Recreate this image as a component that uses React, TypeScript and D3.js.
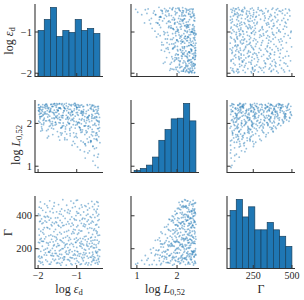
import React from 'react';
import * as d3 from 'd3';

// Each sample: [log eps_d, log L_0.52, Gamma]
const samples: [number, number, number][] = [
  [-1.87, 2.21, 104], [-0.52, 1.02, 112], [-1.34, 1.95, 131], [-0.95, 2.38, 118], [-1.62, 1.74, 137],
  [-0.71, 1.31, 102], [-1.98, 2.44, 125], [-1.15, 2.07, 109], [-0.44, 1.88, 134], [-1.49, 2.29, 115],
  [-0.83, 1.56, 127], [-1.71, 1.93, 106], [-1.06, 1.68, 139], [-0.61, 2.16, 121], [-1.93, 1.82, 113],
  [-1.27, 2.41, 101], [-0.49, 1.43, 129], [-1.55, 2.03, 135], [-0.88, 2.27, 108], [-1.38, 1.77, 117],
  [-0.45, 0.97, 106], [-1.80, 2.35, 132], [-1.12, 1.49, 103], [-0.57, 2.33, 138], [-1.44, 1.61, 111],
  [-0.99, 1.97, 126], [-1.66, 2.45, 119], [-0.78, 1.19, 107], [-1.21, 2.24, 133], [-1.95, 2.02, 122],
  [-0.47, 1.73, 116], [-1.58, 2.11, 128], [-0.91, 1.38, 105], [-1.32, 2.36, 136], [-0.69, 2.09, 114],
  [-1.76, 1.66, 123], [-1.03, 2.42, 110], [-0.55, 1.25, 130], [-1.41, 1.89, 100], [-0.85, 2.19, 139],
  [-1.89, 2.28, 118], [-1.18, 1.84, 126], [-0.63, 1.59, 103], [-1.52, 2.46, 112], [-0.42, 2.05, 121],
  [-1.24, 2.13, 134], [-0.75, 1.78, 115], [-1.68, 2.32, 107], [-0.58, 1.12, 129], [-1.46, 2.22, 137],

  [-1.36, 2.18, 143], [-0.58, 1.47, 167], [-1.91, 1.98, 152], [-0.82, 2.40, 176], [-1.17, 1.71, 148],
  [-0.46, 1.21, 159], [-1.63, 2.26, 171], [-1.01, 2.04, 141], [-0.73, 1.64, 155], [-1.84, 2.37, 163],
  [-1.29, 1.92, 178], [-0.53, 2.12, 146], [-1.50, 1.81, 158], [-0.94, 2.31, 169], [-1.99, 2.43, 150],
  [-0.67, 1.36, 174], [-1.42, 2.08, 144], [-1.09, 1.58, 161], [-0.41, 1.90, 153], [-1.73, 1.70, 179],
  [-0.87, 2.23, 147], [-1.22, 2.39, 166], [-0.60, 1.80, 157], [-1.56, 1.96, 172], [-1.95, 2.15, 142],
  [-0.79, 1.52, 164], [-1.33, 2.30, 151], [-0.50, 1.63, 177], [-1.11, 2.20, 145], [-1.67, 2.44, 160],
  [-0.90, 1.86, 170], [-1.47, 1.69, 154], [-0.65, 2.35, 149], [-1.81, 2.06, 175], [-1.04, 2.47, 162],
  [-0.44, 1.28, 141], [-1.26, 1.75, 168], [-1.60, 2.25, 156], [-0.76, 2.01, 173], [-1.90, 1.88, 146],
  [-0.98, 1.45, 159], [-1.39, 2.14, 165], [-0.56, 2.42, 152], [-1.70, 2.17, 178], [-1.14, 1.91, 144],
  [-0.84, 2.28, 163], [-1.53, 2.38, 171], [-0.62, 1.74, 148], [-1.97, 2.32, 157], [-1.19, 2.00, 176],
  [-0.70, 1.56, 143], [-1.44, 2.46, 167], [-0.93, 2.10, 155], [-1.78, 1.83, 161], [-0.48, 2.24, 174],
  [-1.31, 1.62, 150], [-1.06, 2.34, 169], [-0.81, 1.94, 147], [-1.64, 2.12, 158], [-0.59, 2.41, 179],

  [-1.12, 2.27, 183], [-0.54, 1.41, 205], [-1.85, 2.09, 192], [-0.89, 1.79, 214], [-1.45, 2.36, 187],
  [-0.68, 2.18, 199], [-1.60, 1.87, 218], [-0.97, 2.44, 181], [-1.31, 1.66, 210], [-0.43, 1.97, 195],
  [-1.76, 2.30, 203], [-1.05, 1.53, 188], [-0.61, 2.21, 216], [-1.93, 2.40, 184], [-1.23, 2.03, 207],
  [-0.80, 1.34, 196], [-1.52, 2.14, 212], [-0.51, 1.72, 185], [-1.38, 2.46, 200], [-0.74, 2.07, 219],
  [-1.68, 1.95, 190], [-1.00, 2.33, 208], [-0.46, 2.39, 182], [-1.89, 1.84, 215], [-1.17, 1.76, 194],
  [-0.86, 2.25, 204], [-1.56, 2.42, 189], [-0.64, 1.60, 211], [-1.27, 2.19, 186], [-1.98, 2.05, 198],
  [-0.92, 1.90, 217], [-1.42, 1.78, 193], [-0.57, 2.29, 206], [-1.72, 2.37, 183], [-1.08, 2.12, 213],
  [-0.77, 1.48, 191], [-1.35, 2.01, 201], [-0.49, 2.16, 209], [-1.81, 2.23, 197], [-1.20, 2.45, 188],
  [-0.71, 1.93, 215], [-1.63, 1.99, 202], [-0.99, 1.67, 184], [-1.48, 2.31, 219], [-0.40, 1.55, 193],

  [-1.58, 2.20, 224], [-0.63, 1.58, 247], [-1.14, 2.41, 233], [-1.95, 2.11, 256], [-0.85, 1.85, 229],
  [-1.37, 1.94, 241], [-0.47, 2.28, 252], [-1.73, 2.34, 222], [-1.02, 1.70, 238], [-0.70, 2.15, 259],
  [-1.49, 2.45, 231], [-1.86, 1.97, 245], [-0.55, 1.64, 227], [-1.21, 2.26, 250], [-0.92, 2.38, 236],
  [-1.65, 1.89, 257], [-0.42, 2.02, 243], [-1.30, 1.81, 221], [-1.99, 2.30, 239], [-0.78, 1.52, 254],
  [-1.10, 2.08, 226], [-1.54, 2.17, 248], [-0.60, 2.43, 234], [-1.83, 2.22, 260], [-1.25, 1.62, 230],
  [-0.88, 1.99, 244], [-1.43, 2.36, 253], [-0.50, 1.77, 223], [-1.69, 2.04, 240], [-1.06, 2.47, 258],
  [-0.74, 2.13, 228], [-1.91, 1.92, 246], [-1.33, 2.29, 235], [-0.58, 1.46, 251], [-1.18, 1.88, 225],
  [-1.61, 2.40, 242], [-0.96, 2.19, 255], [-0.44, 2.35, 232], [-1.78, 2.06, 237], [-1.40, 1.73, 249],
  [-0.82, 2.24, 222], [-1.51, 2.32, 258], [-1.03, 1.96, 239], [-0.67, 1.68, 231], [-1.88, 2.44, 245],
  [-1.28, 2.10, 227], [-0.53, 2.00, 253], [-1.74, 1.86, 234], [-0.99, 2.37, 248], [-1.45, 2.14, 220],
  [-0.73, 1.80, 243], [-1.96, 2.27, 236], [-1.16, 2.33, 257], [-0.89, 1.59, 229],

  [-1.35, 2.25, 264], [-0.59, 1.71, 287], [-1.80, 2.39, 272], [-0.95, 2.03, 296], [-1.53, 1.98, 268],
  [-0.45, 2.31, 281], [-1.13, 2.44, 291], [-1.92, 2.16, 262], [-0.76, 1.83, 276], [-1.44, 2.09, 299],
  [-0.62, 2.40, 270], [-1.67, 2.28, 284], [-1.01, 1.76, 265], [-0.48, 1.63, 293], [-1.24, 2.35, 278],
  [-1.85, 2.01, 289], [-0.84, 2.20, 261], [-1.57, 2.46, 274], [-0.69, 1.94, 297], [-1.19, 2.12, 267],
  [-1.97, 2.37, 283], [-0.52, 2.23, 271], [-1.40, 1.90, 290], [-0.91, 2.42, 263], [-1.72, 2.07, 279],
  [-1.07, 2.30, 294], [-0.64, 1.56, 266], [-1.50, 2.18, 286], [-0.80, 2.05, 273], [-1.88, 2.33, 298],
  [-1.29, 1.87, 269], [-0.41, 2.14, 282], [-1.62, 1.95, 277], [-0.98, 2.26, 288],

  [-1.10, 2.21, 303], [-1.75, 2.36, 326], [-0.56, 1.80, 312], [-1.46, 2.02, 337], [-0.87, 2.43, 308],
  [-1.98, 2.29, 319], [-0.43, 1.69, 331], [-1.26, 1.96, 305], [-0.72, 2.15, 322], [-1.64, 2.40, 339],
  [-1.04, 1.89, 315], [-0.50, 2.32, 309], [-1.84, 2.12, 328], [-1.32, 2.45, 301], [-0.79, 1.74, 334],
  [-1.55, 2.26, 317], [-0.61, 2.06, 324], [-1.93, 2.38, 306], [-1.15, 2.18, 336], [-0.94, 1.92, 313],
  [-1.41, 2.34, 329], [-0.47, 1.60, 302], [-1.70, 2.08, 320], [-0.83, 2.27, 338], [-1.21, 2.00, 311],
  [-0.66, 2.44, 327], [-1.59, 2.23, 304], [-1.00, 2.37, 333], [-1.87, 2.19, 316], [-0.54, 1.97, 321],
  [-1.36, 2.13, 340], [-0.90, 1.84, 307], [-1.77, 2.42, 330], [-1.08, 1.78, 318],

  [-1.48, 2.30, 343], [-0.60, 1.86, 367], [-1.90, 2.17, 352], [-1.05, 2.41, 376], [-0.77, 1.95, 345],
  [-1.63, 2.04, 360], [-0.45, 2.24, 371], [-1.27, 2.47, 348], [-1.96, 2.35, 365], [-0.86, 1.80, 379],
  [-1.12, 2.10, 355], [-0.51, 2.39, 344], [-1.71, 2.27, 373], [-1.38, 1.91, 358], [-0.68, 2.19, 349],
  [-1.82, 2.43, 369], [-0.97, 2.02, 341], [-1.54, 2.14, 363], [-0.42, 1.82, 377], [-1.20, 2.33, 351],
  [-0.73, 2.44, 366], [-1.66, 1.99, 346], [-1.01, 2.25, 374], [-1.87, 2.07, 357], [-0.57, 2.12, 362],
  [-1.33, 2.38, 342], [-0.92, 1.90, 370], [-1.58, 2.31, 353], [-0.48, 1.78, 347], [-1.17, 2.21, 378],
  [-1.78, 2.45, 361], [-0.81, 2.09, 350], [-1.43, 2.01, 372], [-0.63, 2.36, 356], [-1.94, 2.23, 368],
  [-1.09, 1.97, 344], [-0.70, 1.88, 375], [-1.52, 2.42, 359], [-1.23, 2.16, 364], [-0.88, 2.29, 354],

  [-1.30, 2.34, 384], [-0.58, 1.96, 407], [-1.73, 2.20, 392], [-0.95, 2.42, 416], [-1.49, 2.11, 388],
  [-0.46, 1.88, 399], [-1.99, 2.37, 411], [-1.07, 2.05, 383], [-0.75, 2.28, 403], [-1.61, 2.45, 419],
  [-0.53, 2.15, 390], [-1.84, 2.26, 396], [-1.19, 1.99, 414], [-0.84, 2.39, 386], [-1.40, 2.18, 409],
  [-0.65, 1.91, 394], [-1.91, 2.31, 381], [-1.02, 2.44, 401], [-0.49, 2.08, 418], [-1.55, 2.02, 387],
  [-0.90, 2.24, 405], [-1.76, 2.40, 397], [-1.24, 2.13, 420], [-0.62, 2.33, 389], [-1.45, 2.46, 412],
  [-0.79, 1.94, 382], [-1.95, 2.16, 402], [-1.13, 2.29, 393], [-0.43, 2.21, 408], [-1.67, 2.35, 385],
  [-0.98, 2.00, 415], [-1.35, 2.41, 398], [-0.71, 2.12, 410], [-1.81, 2.27, 391],

  [-1.52, 2.26, 424], [-0.67, 2.04, 447], [-1.88, 2.38, 433], [-1.04, 2.17, 456], [-0.50, 1.95, 428],
  [-1.39, 2.44, 441], [-1.97, 2.21, 452], [-0.82, 2.32, 423], [-1.22, 2.09, 437], [-0.44, 2.40, 459],
  [-1.69, 2.30, 426], [-0.93, 2.01, 444], [-1.31, 2.35, 431], [-0.59, 2.19, 455], [-1.80, 2.45, 421],
  [-1.11, 2.27, 449], [-0.72, 2.42, 435], [-1.59, 2.13, 458], [-0.47, 2.06, 440], [-1.43, 2.36, 427],
  [-1.92, 2.24, 446], [-0.86, 2.11, 453], [-1.17, 2.43, 429], [-0.55, 2.29, 438], [-1.75, 2.15, 450],
  [-1.00, 2.37, 425], [-1.63, 2.39, 443], [-0.76, 2.23, 457],

  [-1.26, 2.30, 464], [-0.61, 2.12, 487], [-1.83, 2.41, 472], [-0.98, 2.21, 495], [-1.47, 2.36, 468],
  [-0.45, 2.05, 481], [-1.70, 2.27, 491], [-1.08, 2.44, 476], [-0.79, 2.16, 462], [-1.94, 2.33, 484],
  [-1.36, 2.19, 498], [-0.54, 2.38, 470], [-1.58, 2.46, 479], [-0.88, 2.08, 466], [-1.15, 2.25, 489],
  [-0.70, 2.31, 474], [-1.77, 2.22, 461], [-1.01, 2.40, 493], [-0.48, 2.14, 485],
];

// Histogram counts (10 equal bins over each variable's range)
const epsCounts = [46, 57, 69, 40, 46, 44, 57, 46, 48, 43];
const logLCounts = [3, 6, 11, 23, 48, 64, 80, 81, 103, 77];
const gammaCounts = [63, 75, 56, 67, 42, 42, 50, 42, 35, 24];

const epsRange: [number, number] = [-2, -0.4];
const logLRange: [number, number] = [0.93, 2.47];
const gammaRange: [number, number] = [100, 500];

const epsTicks = [-2, -1];
const logLTicks = [1, 2];
const gammaXTicks = [250, 500];
const gammaYTicks = [200, 400];

const W = 304;
const H = 300;
const colLeft = [35, 131, 227];
const colWidth = 68;
const rowTop = [4, 100, 196];
const rowHeight = 72.5;

const FONT = "'Liberation Serif', 'DejaVu Serif', serif";
const TEXT = '#262626';
const SPINE = '#333333';
const BLUE = '#1f77b4';

const vars = [
  { range: epsRange, counts: epsCounts, xTicks: epsTicks, yTicks: epsTicks },
  { range: logLRange, counts: logLCounts, xTicks: logLTicks, yTicks: logLTicks },
  { range: gammaRange, counts: gammaCounts, xTicks: gammaXTicks, yTicks: gammaYTicks },
];

const pad = (r: [number, number]): [number, number] => {
  const d = (r[1] - r[0]) * 0.05;
  return [r[0] - d, r[1] + d];
};

const fmt = (v: number) => (v < 0 ? '\u2212' + Math.abs(v) : String(v));

function Label({ idx }: { idx: number }) {
  if (idx === 0)
    return (
      <>
        log <tspan fontStyle="italic">ε</tspan>
        <tspan fontSize={8.5} dy={2.5}>d</tspan>
      </>
    );
  if (idx === 1)
    return (
      <>
        log <tspan fontStyle="italic">L</tspan>
        <tspan fontSize={8.5} dy={2.5}>0,52</tspan>
      </>
    );
  return <>Γ</>;
}

export default function App() {
  const xs = vars.map((v, j) =>
    d3.scaleLinear().domain(pad(v.range)).range([colLeft[j], colLeft[j] + colWidth])
  );
  const ys = vars.map((v, i) =>
    d3.scaleLinear().domain(pad(v.range)).range([rowTop[i] + rowHeight, rowTop[i]])
  );

  const panels: React.ReactNode[] = [];
  for (let i = 0; i < 3; i++) {
    for (let j = 0; j < 3; j++) {
      const left = colLeft[j];
      const right = left + colWidth;
      const top = rowTop[i];
      const bottom = top + rowHeight;
      const x = xs[j];
      const y = ys[i];
      const content: React.ReactNode[] = [];
      if (i === j) {
        const v = vars[i];
        const n = v.counts.length;
        const edges = d3.range(n + 1).map((k) => v.range[0] + ((v.range[1] - v.range[0]) * k) / n);
        const hy = d3
          .scaleLinear()
          .domain([0, (d3.max(v.counts) as number) * 1.05])
          .range([bottom, top]);
        v.counts.forEach((c, k) => {
          content.push(
            <rect
              key={`b${k}`}
              x={x(edges[k])}
              y={hy(c)}
              width={x(edges[k + 1]) - x(edges[k])}
              height={bottom - hy(c)}
              fill={BLUE}
              stroke="#17415f"
              strokeWidth={0.7}
            />
          );
        });
      } else {
        samples.forEach((s, k) => {
          content.push(
            <circle key={`p${k}`} cx={x(s[j])} cy={y(s[i])} r={0.9} fill={BLUE} fillOpacity={0.48} />
          );
        });
      }
      vars[j].xTicks.forEach((t) => {
        content.push(
          <line key={`xt${t}`} x1={x(t)} x2={x(t)} y1={bottom} y2={bottom - 3.5} stroke={SPINE} strokeWidth={1} />
        );
        if (i === 2)
          content.push(
            <text key={`xl${t}`} x={x(t)} y={279} textAnchor="middle" fontSize={10} fill={TEXT} fontFamily={FONT}>
              {fmt(t)}
            </text>
          );
      });
      vars[i].yTicks.forEach((t) => {
        content.push(
          <line key={`yt${t}`} x1={left} x2={left + 3.5} y1={y(t)} y2={y(t)} stroke={SPINE} strokeWidth={1} />
        );
        if (j === 0)
          content.push(
            <text
              key={`yl${t}`}
              x={left - 3}
              y={y(t)}
              dy="0.34em"
              textAnchor="end"
              fontSize={10.5}
              fill={TEXT}
              fontFamily={FONT}
            >
              {fmt(t)}
            </text>
          );
      });
      content.push(
        <path
          key="spine"
          d={`M${left},${top}V${bottom}H${right}`}
          fill="none"
          stroke={SPINE}
          strokeWidth={1.1}
        />
      );
      panels.push(<g key={`${i}-${j}`}>{content}</g>);
    }
  }

  const yLabelX = [12.5, 19.5, 11.5];
  const yLabelY = [41, 145, 232.5];

  return (
    <svg
      width={W}
      height={H}
      style={{ position: 'absolute', left: 0, top: 0, background: '#fff' }}
      fontFamily={FONT}
    >
      <rect x={0} y={0} width={W} height={H} fill="#fff" />
      {panels}
      {[0, 1, 2].map((j) => (
        <text
          key={`xlab${j}`}
          x={colLeft[j] + colWidth / 2}
          y={292.5}
          textAnchor="middle"
          fontSize={12}
          fill={TEXT}
        >
          <Label idx={j} />
        </text>
      ))}
      {[0, 1, 2].map((i) => (
        <text
          key={`ylab${i}`}
          transform={`translate(${yLabelX[i]},${yLabelY[i]}) rotate(-90)`}
          textAnchor="middle"
          fontSize={12}
          fill={TEXT}
        >
          <Label idx={i} />
        </text>
      ))}
    </svg>
  );
}
